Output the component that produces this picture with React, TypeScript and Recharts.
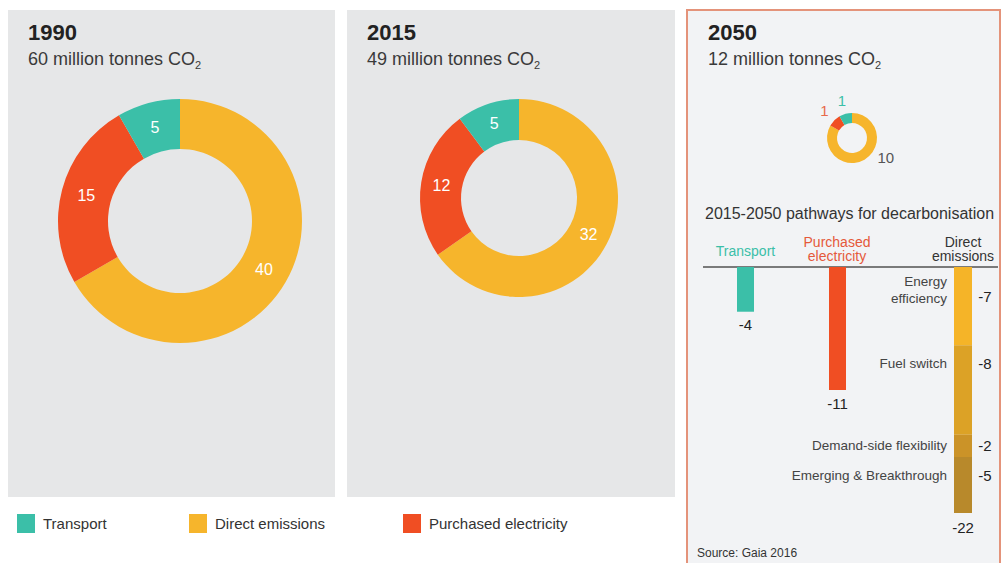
import { PieChart, Pie, Cell, BarChart, Bar, XAxis, YAxis } from "recharts";

const FONT = '"Liberation Sans", Arial, Helvetica, sans-serif';

// donut data, million tonnes CO2
const years = ["1990", "2015", "2050"];
const totals = [60, 49, 12];
const directEmissions = [40, 32, 10];
const purchasedElectricity = [15, 12, 1];
const transport = [5, 5, 1];

const sectorNames = ["Direct emissions", "Purchased electricity", "Transport"];
const sectorColors = ["#f6b52c", "#f04e23", "#3bbfa8"];
const legendOrder = ["Transport", "Direct emissions", "Purchased electricity"];

// 2015-2050 pathways
const pathwayTransport = -4;
const pathwayElectricity = -11;
const directLevers = ["Energy\nefficiency", "Fuel switch", "Demand-side flexibility", "Emerging & Breakthrough"];
const directLeverValues = [-7, -8, -2, -5];
const leverColors = ["#f5b428", "#dca226", "#cb9328", "#b8892b"];

const RAD = Math.PI / 180;
const Y_DOMAIN: [number, number] = [-22, 0];

function pieData(i: number) {
  const vals = [directEmissions[i], purchasedElectricity[i], transport[i]];
  return sectorNames.map((name, k) => ({ name, value: vals[k] }));
}

function insideLabel(props: any) {
  const { cx, cy, midAngle, innerRadius, outerRadius, value } = props;
  const r = (innerRadius + outerRadius) / 2;
  const x = cx + r * Math.cos(-midAngle * RAD);
  const y = cy + r * Math.sin(-midAngle * RAD);
  return (
    <text x={x} y={y} fill="#fff" fontSize={16} fontFamily={FONT} textAnchor="middle" dominantBaseline="central">
      {value}
    </text>
  );
}

const smallLabelColors = ["#555", "#e8694a", "#3bbfa8"];
function outsideLabel(props: any) {
  const { cx, cy, midAngle, outerRadius, value, index } = props;
  const ang = index === 0 ? -30 : midAngle;
  const r = outerRadius + 14;
  const x = cx + r * Math.cos(-ang * RAD);
  const y = cy + r * Math.sin(-ang * RAD);
  return (
    <text x={x} y={y} fill={smallLabelColors[index]} fontSize={15} fontFamily={FONT} textAnchor="middle" dominantBaseline="central">
      {value}
    </text>
  );
}

function Title({ year, total, left }: { year: string; total: number; left: number }) {
  return (
    <div style={{ position: "absolute", left, top: 20, color: "#222", fontFamily: FONT }}>
      <div style={{ fontSize: 22, fontWeight: 700, lineHeight: "26px" }}>{year}</div>
      <div style={{ fontSize: 18, lineHeight: "26px", color: "#3a3a3a" }}>
        {total} million tonnes CO<sub style={{ fontSize: 11, verticalAlign: "-4px" }}>2</sub>
      </div>
    </div>
  );
}

function Donut({ i, left, top, w, h, cx, cy, inner, outer, small }: any) {
  return (
    <div style={{ position: "absolute", left, top }}>
      <PieChart width={w} height={h} margin={{ top: 0, right: 0, bottom: 0, left: 0 }}>
        <Pie
          data={pieData(i)}
          dataKey="value"
          cx={cx}
          cy={cy}
          innerRadius={inner}
          outerRadius={outer}
          startAngle={90}
          endAngle={-270}
          stroke="none"
          labelLine={false}
          label={small ? outsideLabel : insideLabel}
          isAnimationActive={false}
        >
          {sectorNames.map((n, k) => (
            <Cell key={n} fill={sectorColors[k]} />
          ))}
        </Pie>
      </PieChart>
    </div>
  );
}

// pathway charts share one geometry: top axis line at page y=267, -22 at y=513
const CHART_TOP = 227;
const HEAD_H = 40;
const PLOT_H = 246;
const CHART_H = HEAD_H + PLOT_H + 34;

function headerTick(lines: string[], color: string) {
  return (props: any) => {
    const { x } = props;
    const ys = lines.length === 1 ? [24] : [15, 29];
    return (
      <g>
        {lines.map((l, k) => (
          <text key={k} x={x} y={ys[k]} fill={color} fontSize={14} fontFamily={FONT} textAnchor="middle" dominantBaseline="central">
            {l}
          </text>
        ))}
      </g>
    );
  };
}

function bottomLabel() {
  return (props: any) => {
    const { x, y, width, height, value } = props;
    const bottom = Math.max(y, y + height);
    return (
      <text x={x + width / 2} y={bottom + 13} fill="#222" fontSize={15} fontFamily={FONT} textAnchor="middle" dominantBaseline="central">
        {value}
      </text>
    );
  };
}

function leverLabel(i: number, last: boolean) {
  return (props: any) => {
    const { x, y, width, height } = props;
    const top = Math.min(y, y + height);
    const h = Math.abs(height);
    const ly = top + Math.min(h / 2, 18) + (i === 0 ? 11 : 0);
    const lines = directLevers[i].split("\n");
    const total = directLeverValues.reduce((a, b) => a + b, 0);
    return (
      <g fontFamily={FONT}>
        {lines.map((l, k) => (
          <text key={k} x={x - 7} y={lines.length > 1 ? ly - 15 + k * 17 : ly} fill="#444" fontSize={13.5} textAnchor="end" dominantBaseline="central">
            {l}
          </text>
        ))}
        <text x={x + width + 13} y={ly} fill="#222" fontSize={15} textAnchor="middle" dominantBaseline="central">
          {directLeverValues[i]}
        </text>
        {last && (
          <text x={x + width / 2} y={top + h + 14} fill="#222" fontSize={15} textAnchor="middle" dominantBaseline="central">
            {total}
          </text>
        )}
      </g>
    );
  };
}

function SingleBar({ left, width, name, lines, color, textColor, value }: any) {
  return (
    <div style={{ position: "absolute", left, top: CHART_TOP }}>
      <BarChart width={width} height={CHART_H} data={[{ name, value }]} margin={{ top: 0, right: 0, left: 0, bottom: CHART_H - HEAD_H - PLOT_H }}>
        <XAxis dataKey="name" orientation="top" height={HEAD_H} axisLine={false} tickLine={false} interval={0} tick={headerTick(lines, textColor)} />
        <YAxis hide domain={Y_DOMAIN} />
        <Bar dataKey="value" fill={color} barSize={17} isAnimationActive={false} label={bottomLabel()} />
      </BarChart>
    </div>
  );
}

function DirectBar() {
  const row: Record<string, string | number> = { name: "Direct emissions" };
  directLeverValues.forEach((v, i) => (row["l" + i] = v));
  return (
    <div style={{ position: "absolute", left: 790, top: CHART_TOP }}>
      <BarChart width={208} height={CHART_H} data={[row]} margin={{ top: 0, right: 0, left: 138, bottom: CHART_H - HEAD_H - PLOT_H }}>
        <XAxis dataKey="name" orientation="top" height={HEAD_H} axisLine={false} tickLine={false} interval={0} tick={headerTick(["Direct", "emissions"], "#333")} />
        <YAxis hide domain={Y_DOMAIN} />
        {directLeverValues.map((_, i) => (
          <Bar
            key={i}
            dataKey={"l" + i}
            stackId="d"
            fill={leverColors[i]}
            barSize={18}
            isAnimationActive={false}
            label={leverLabel(i, i === directLeverValues.length - 1)}
          />
        ))}
      </BarChart>
    </div>
  );
}

export default function App() {
  const legendColor = (n: string) => sectorColors[sectorNames.indexOf(n)];
  const legendX = [17, 189, 403];
  return (
    <div style={{ position: "absolute", left: 0, top: 0, width: 1004, height: 563, overflow: "hidden", background: "#fff", fontFamily: FONT }}>
      <div style={{ position: "absolute", left: 8, top: 10, width: 327, height: 487, background: "#e6e7e8" }} />
      <div style={{ position: "absolute", left: 347, top: 10, width: 328, height: 487, background: "#e6e7e8" }} />
      <div style={{ position: "absolute", left: 686, top: 9, width: 311, height: 600, background: "#f2f3f5", border: "2px solid #e4937a" }} />

      <Title year={years[0]} total={totals[0]} left={28} />
      <Title year={years[1]} total={totals[1]} left={367} />
      <Title year={years[2]} total={totals[2]} left={708} />

      <Donut i={0} left={8} top={10} w={327} h={487} cx={172} cy={211} inner={72} outer={122} />
      <Donut i={1} left={347} top={10} w={328} h={487} cx={172} cy={188} inner={58} outer={99} />
      <Donut i={2} left={786} top={78} w={130} h={120} cx={66} cy={60} inner={15} outer={25} small />

      <div style={{ position: "absolute", left: 705, top: 205, fontSize: 16, color: "#333", whiteSpace: "nowrap" }}>
        2015-2050 pathways for decarbonisation
      </div>
      <div style={{ position: "absolute", left: 703, top: 266, width: 295, height: 1.5, background: "#7a7a7a" }} />

      <SingleBar left={703} width={85} name="Transport" lines={["Transport"]} color="#3bbfa8" textColor="#3bbfa8" value={pathwayTransport} />
      <SingleBar left={788} width={98} name="Purchased electricity" lines={["Purchased", "electricity"]} color="#f04e23" textColor="#e5593a" value={pathwayElectricity} />
      <DirectBar />

      <div style={{ position: "absolute", left: 697, top: 546, fontSize: 12, color: "#333" }}>Source: Gaia 2016</div>

      {legendOrder.map((n, k) => (
        <div key={n} style={{ position: "absolute", left: legendX[k], top: 514, display: "flex", alignItems: "center" }}>
          <div style={{ width: 18, height: 19, background: legendColor(n), marginRight: 8 }} />
          <span style={{ fontSize: 15, color: "#333" }}>{n}</span>
        </div>
      ))}
    </div>
  );
}
